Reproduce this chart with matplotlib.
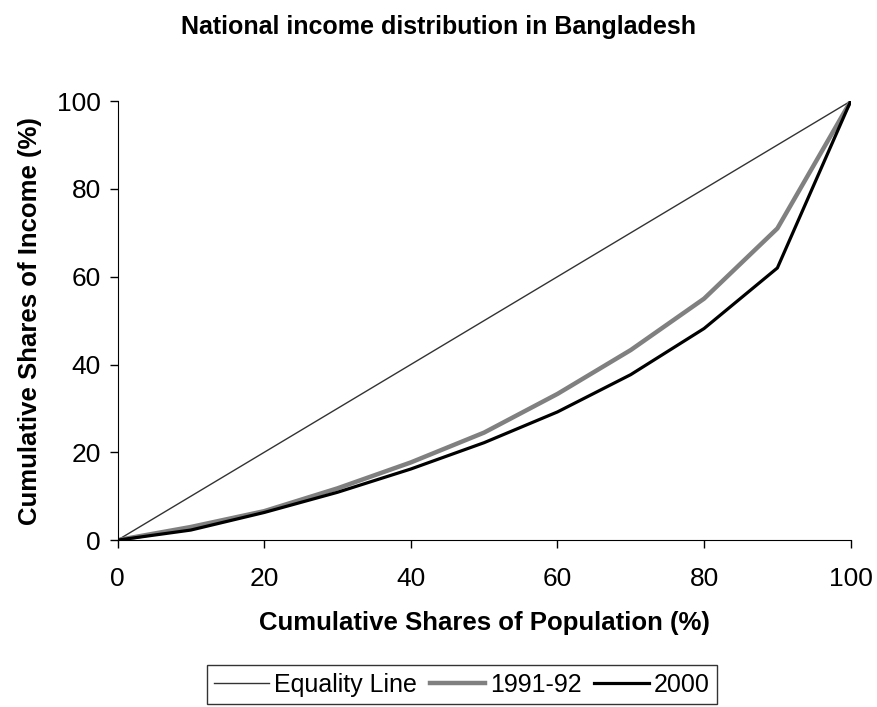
import matplotlib.pyplot as plt

plt.rcParams['font.family'] = ['Liberation Sans', 'DejaVu Sans']

# cumulative population shares (deciles)
population = [0, 10, 20, 30, 40, 50, 60, 70, 80, 90, 100]
equality = [0, 10, 20, 30, 40, 50, 60, 70, 80, 90, 100]
income_1991 = [0, 3.0, 6.6, 11.8, 17.7, 24.5, 33.3, 43.3, 55.0, 71.0, 100]
income_2000 = [0, 2.3, 6.3, 10.9, 16.2, 22.2, 29.2, 37.7, 48.2, 62.0, 100]

fig = plt.figure(figsize=(8.77, 7.07), dpi=100)
ax = fig.add_axes([0.134, 0.236, 0.836, 0.621])

ax.plot(population, equality, color='#333333', lw=1.0, label='Equality Line')
ax.plot(population, income_1991, color='#808080', lw=3.2, label='1991-92')
ax.plot(population, income_2000, color='black', lw=2.3, label='2000')

ax.set_xlim(0, 100)
ax.set_ylim(0, 100)
ax.set_xticks(range(0, 101, 20))
ax.set_yticks(range(0, 101, 20))
ax.spines['top'].set_visible(False)
ax.spines['right'].set_visible(False)
ax.tick_params(direction='out', length=6, width=1, labelsize=19)
ax.tick_params(axis='x', pad=13)
ax.tick_params(axis='y', pad=6)

ax.set_xlabel('Cumulative Shares of Population (%)', fontsize=18.5, fontweight='bold', labelpad=15)
ax.set_ylabel('Cumulative Shares of Income (%)', fontsize=18.5, fontweight='bold', labelpad=11)
fig.suptitle('National income distribution in Bangladesh', fontsize=18, fontweight='bold',
             y=0.962, va='center')

leg = ax.legend(loc='upper center', bbox_to_anchor=(0.47, -0.285), ncol=3, fontsize=18,
                frameon=True, fancybox=False, edgecolor='black', handlelength=2.2,
                columnspacing=0.5, handletextpad=0.2, borderpad=0.3, borderaxespad=0)
leg.get_frame().set_linewidth(1.0)

fig.savefig('out.png', dpi=100)
